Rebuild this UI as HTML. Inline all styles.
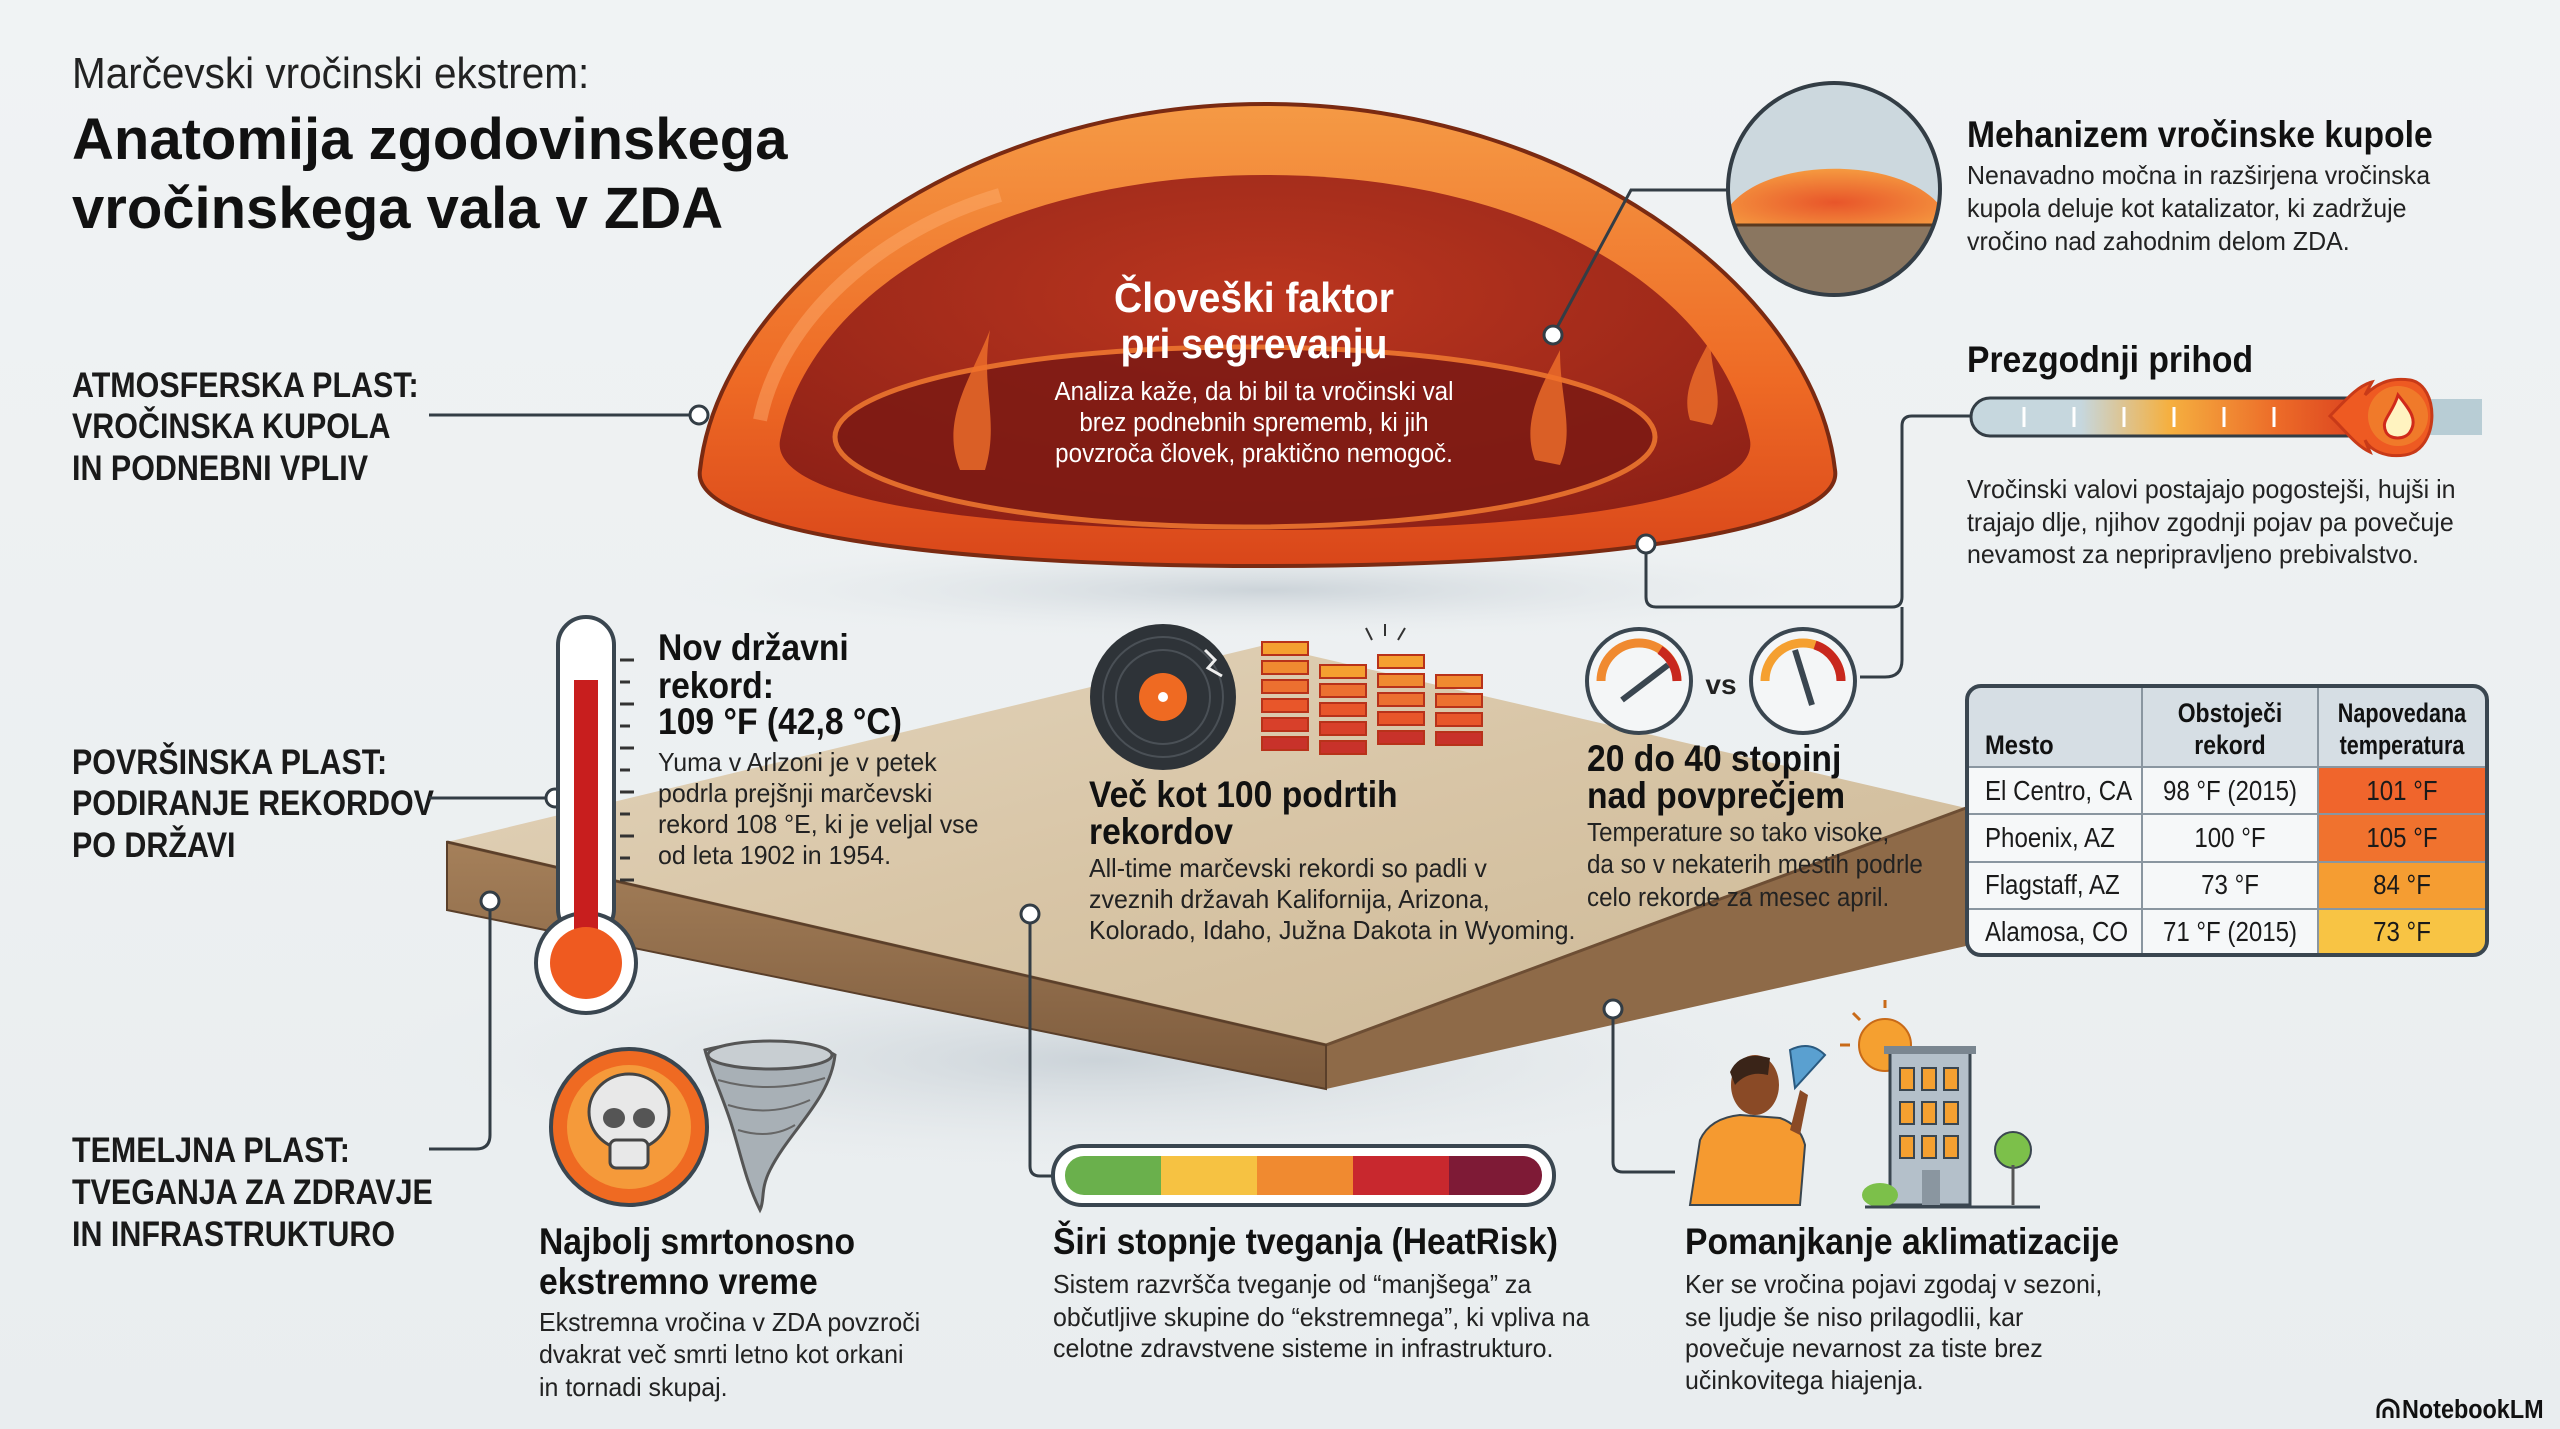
<!DOCTYPE html>
<html><head><meta charset="utf-8">
<style>
html,body{margin:0;padding:0;background:#eef1f2;}
svg{display:block}
.n{font-family:"Liberation Sans Narrow","Liberation Sans",sans-serif;}
.s{font-family:"Liberation Sans",sans-serif;}
</style></head>
<body>
<svg width="2560" height="1429" viewBox="0 0 2560 1429" xmlns="http://www.w3.org/2000/svg">
<defs>
  <linearGradient id="bg" x1="0" y1="0" x2="0" y2="1"><stop offset="0" stop-color="#f0f3f4"/><stop offset="1" stop-color="#e9edef"/></linearGradient>
  <linearGradient id="domeO" x1="0" y1="0" x2="0" y2="1"><stop offset="0" stop-color="#f59a45"/><stop offset="0.6" stop-color="#ee6a25"/><stop offset="1" stop-color="#d9461a"/></linearGradient>
  <radialGradient id="domeI" cx="0.5" cy="0.35" r="0.7"><stop offset="0" stop-color="#b8321e"/><stop offset="1" stop-color="#8a1e16"/></radialGradient>
  <linearGradient id="top" x1="0" y1="0" x2="1" y2="1"><stop offset="0" stop-color="#e3d5bd"/><stop offset="0.5" stop-color="#d8c5a6"/><stop offset="1" stop-color="#cdb997"/></linearGradient>
  <linearGradient id="side" x1="0" y1="0" x2="0" y2="1"><stop offset="0" stop-color="#a5805a"/><stop offset="1" stop-color="#7c5a3c"/></linearGradient>
  <linearGradient id="pbar" x1="0" y1="0" x2="1" y2="0"><stop offset="0" stop-color="#c6d7de"/><stop offset="0.25" stop-color="#c6d7de"/><stop offset="0.45" stop-color="#f5b040"/><stop offset="0.7" stop-color="#ec6a28"/><stop offset="1" stop-color="#d02a1a"/></linearGradient>
  <radialGradient id="glass" cx="0.5" cy="0.6" r="0.6"><stop offset="0" stop-color="#e8552a"/><stop offset="1" stop-color="#f59a40"/></radialGradient>
  <radialGradient id="shadow" cx="0.5" cy="0.5" r="0.5"><stop offset="0" stop-color="#c8d0d6" stop-opacity="0.9"/><stop offset="1" stop-color="#e9edef" stop-opacity="0"/></radialGradient>
</defs>
<rect width="2560" height="1429" fill="url(#bg)"/>

<!-- Titles -->
<text x="72" y="88" class="s" font-size="44" fill="#222" transform="translate(72,0) scale(0.92,1) translate(-72,0)">Marčevski vročinski ekstrem:</text>
<text x="72" y="159" class="s" font-size="58" font-weight="bold" fill="#111">Anatomija zgodovinskega</text>
<text x="72" y="228" class="s" font-size="58" font-weight="bold" fill="#111">vročinskega vala v ZDA</text>

<!-- Left labels -->
<g class="n" font-size="35" font-weight="bold" fill="#1a1a1a" transform="translate(72,0) scale(0.87,1) translate(-72,0)">
<text x="72" y="397">ATMOSFERSKA PLAST:</text>
<text x="72" y="438">VROČINSKA KUPOLA</text>
<text x="72" y="480">IN PODNEBNI VPLIV</text>
<text x="72" y="774">POVRŠINSKA PLAST:</text>
<text x="72" y="815">PODIRANJE REKORDOV</text>
<text x="72" y="857">PO DRŽAVI</text>
<text x="72" y="1162">TEMELJNA PLAST:</text>
<text x="72" y="1204">TVEGANJA ZA ZDRAVJE</text>
<text x="72" y="1246">IN INFRASTRUKTURO</text>
</g>

<!-- shadows -->
<ellipse cx="1265" cy="590" rx="620" ry="50" fill="url(#shadow)"/>
<ellipse cx="1100" cy="1060" rx="760" ry="120" fill="url(#shadow)"/>

<!-- Slab -->
<polygon points="447,842 1265,645 1966,808 1326,1045" fill="url(#top)"/>
<polygon points="447,842 1326,1045 1326,1089 447,910" fill="url(#side)"/>
<polygon points="1326,1045 1966,808 1966,946 1326,1089" fill="#8e6a48"/>
<polyline points="447,842 1326,1045 1966,808" fill="none" stroke="#6d4e34" stroke-width="3"/>
<polygon points="447,842 1326,1045 1326,1089 447,910" fill="none" stroke="#5a3f2a" stroke-width="2"/>

<!-- Dome -->
<path d="M700,470 C720,290 960,104 1265,104 C1570,104 1815,290 1835,470 C1845,530 1600,566 1265,566 C930,566 690,530 700,470 Z" fill="url(#domeO)" stroke="#7a2a12" stroke-width="4"/>
<path d="M780,440 C810,290 1000,175 1265,175 C1530,175 1720,290 1750,440 C1760,500 1560,530 1265,530 C970,530 770,500 780,440 Z" fill="url(#domeI)" opacity="0.95"/>
<ellipse cx="1245" cy="437" rx="410" ry="90" fill="#7c1a14" stroke="#f07a30" stroke-width="5" opacity="0.85"/>
<path d="M760,420 C780,320 880,230 1000,195" fill="none" stroke="#ffb070" stroke-width="14" opacity="0.45"/>
<path d="M960,470 C940,420 970,380 990,330 C980,390 1000,420 985,470Z M1535,460 C1520,420 1545,380 1560,350 C1560,400 1575,430 1560,465Z M1690,420 C1680,390 1700,360 1710,340 C1712,380 1725,400 1712,425Z" fill="#f0702a" opacity="0.8"/>
<g text-anchor="middle" fill="#fff" transform="translate(1254,0) scale(0.93,1) translate(-1254,0)">
<text x="1254" y="312" class="n" font-size="42" font-weight="bold">Človeški faktor</text>
<text x="1254" y="358" class="n" font-size="42" font-weight="bold">pri segrevanju</text>
<g class="n" font-size="26"><text x="1254" y="400">Analiza kaže, da bi bil ta vročinski val</text>
<text x="1254" y="431">brez podnebnih sprememb, ki jih</text>
<text x="1254" y="462">povzroča človek, praktično nemogoč.</text></g>
</g>

<!-- connectors -->
<g fill="none" stroke="#333d45" stroke-width="3">
<line x1="429" y1="415" x2="699" y2="415"/>
<line x1="429" y1="798" x2="555" y2="798"/>
<path d="M429,1149 L476,1149 Q490,1149 490,1135 L490,901"/>
<path d="M1553,335 L1631,190 L1727,190"/>
<path d="M1646,544 L1646,597 Q1646,607 1656,607 L1892,607 Q1902,607 1902,597 L1902,426 Q1902,416 1912,416 L1971,416"/>
<path d="M1902,607 L1902,660 Q1902,677 1885,677 L1860,677"/>
<path d="M1030,914 L1030,1166 Q1030,1176 1040,1176 L1053,1176"/>
<path d="M1613,1009 L1613,1162 Q1613,1172 1623,1172 L1675,1172"/>
</g>
<g fill="#fff" stroke="#333d45" stroke-width="3">
<circle cx="699" cy="415" r="9"/><circle cx="555" cy="798" r="9"/><circle cx="490" cy="901" r="9"/>
<circle cx="1553" cy="335" r="9"/><circle cx="1646" cy="544" r="9"/><circle cx="1030" cy="914" r="9"/><circle cx="1613" cy="1009" r="9"/>
</g>

<!-- magnifier circle -->
<clipPath id="cc"><circle cx="1834" cy="189" r="106"/></clipPath>
<g clip-path="url(#cc)">
<rect x="1720" y="80" width="230" height="220" fill="#ccd8de"/>
<path d="M1720,225 C1740,150 1930,150 1950,225 Z" fill="url(#glass)"/>
<rect x="1720" y="225" width="230" height="80" fill="#8a7660"/>
<line x1="1720" y1="225" x2="1950" y2="225" stroke="#5a3a20" stroke-width="3"/>
</g>
<circle cx="1834" cy="189" r="106" fill="none" stroke="#333d45" stroke-width="4"/>

<!-- Right texts -->
<g transform="translate(1967,0) scale(0.91,1) translate(-1967,0)" class="n" font-size="37" font-weight="bold" fill="#111">
<text x="1967" y="147">Mehanizem vročinske kupole</text>
<text x="1967" y="372">Prezgodnji prihod</text></g>
<g class="n" font-size="26" fill="#222" transform="translate(1967,0) scale(0.96,1) translate(-1967,0)"><text x="1967" y="184">Nenavadno močna in razširjena vročinska</text>
<text x="1967" y="217">kupola deluje kot katalizator, ki zadržuje</text>
<text x="1967" y="250">vročino nad zahodnim delom ZDA.</text>
<text x="1967" y="498">Vročinski valovi postajajo pogostejši, hujši in</text>
<text x="1967" y="531">trajajo dlje, njihov zgodnji pojav pa povečuje</text>
<text x="1967" y="563">nevamost za nepripravljeno prebivalstvo.</text></g>
<rect x="2420" y="399" width="62" height="36" fill="#b8cdd5"/>
<rect x="1971" y="398" width="440" height="38" rx="19" fill="url(#pbar)" stroke="#333d45" stroke-width="3"/>
<g stroke="#fff" stroke-width="3"><line x1="2024" y1="407" x2="2024" y2="427"/><line x1="2074" y1="407" x2="2074" y2="427"/><line x1="2124" y1="407" x2="2124" y2="427"/><line x1="2174" y1="407" x2="2174" y2="427"/><line x1="2224" y1="407" x2="2224" y2="427"/><line x1="2274" y1="407" x2="2274" y2="427"/></g>
<path d="M2330,416 C2350,395 2360,385 2372,382 L2365,395 C2380,380 2395,378 2410,380 C2440,385 2440,450 2405,455 C2385,458 2370,450 2365,440 L2370,452 C2355,445 2345,430 2330,416Z" fill="#ee5a22" stroke="#c83a18" stroke-width="3"/>
<circle cx="2398" cy="416" r="30" fill="#f07a2a"/>
<path d="M2398,395 C2410,410 2418,420 2410,432 C2405,440 2390,440 2386,432 C2380,420 2392,415 2398,395Z" fill="#fff3c0" stroke="#d02a1a" stroke-width="3"/>

<!-- Thermometer -->
<rect x="558" y="617" width="56" height="320" rx="28" fill="#fff" stroke="#3a4650" stroke-width="4"/>
<circle cx="586" cy="963" r="50" fill="#fff" stroke="#3a4650" stroke-width="4"/>
<rect x="563" y="923" width="46" height="20" fill="#fff"/>
<rect x="574" y="680" width="24" height="270" fill="#c81e1e"/>
<circle cx="586" cy="963" r="36" fill="#ef5a20"/>
<g stroke="#333" stroke-width="3"><line x1="620" y1="660" x2="634" y2="660"/><line x1="620" y1="682" x2="630" y2="682"/><line x1="620" y1="704" x2="634" y2="704"/><line x1="620" y1="726" x2="630" y2="726"/><line x1="620" y1="748" x2="634" y2="748"/><line x1="620" y1="770" x2="630" y2="770"/><line x1="620" y1="792" x2="634" y2="792"/><line x1="620" y1="814" x2="630" y2="814"/><line x1="620" y1="836" x2="634" y2="836"/><line x1="620" y1="858" x2="630" y2="858"/><line x1="620" y1="880" x2="634" y2="880"/></g>
<g class="n" font-weight="bold" font-size="37" fill="#111" transform="translate(658,0) scale(0.91,1) translate(-658,0)"><text x="658" y="660">Nov državni</text><text x="658" y="698">rekord:</text><text x="658" y="734">109 °F (42,8 °C)</text></g>
<g class="n" font-size="26" fill="#222" transform="translate(658,0) scale(0.96,1) translate(-658,0)"><text x="658" y="771">Yuma v Arlzoni je v petek</text><text x="658" y="802">podrla prejšnji marčevski</text><text x="658" y="833">rekord 108 °E, ki je veljal vse</text><text x="658" y="864">od leta 1902 in 1954.</text></g>

<!-- Record -->
<circle cx="1163" cy="697" r="73" fill="#2e3338"/>
<circle cx="1163" cy="697" r="60" fill="none" stroke="#4a5056" stroke-width="2"/>
<circle cx="1163" cy="697" r="47" fill="none" stroke="#4a5056" stroke-width="2"/>
<circle cx="1163" cy="697" r="24" fill="#ef6a22"/>
<circle cx="1163" cy="697" r="5" fill="#fff"/>
<path d="M1205,650 L1215,660 L1208,668 L1222,676" fill="none" stroke="#eee" stroke-width="3"/>
<g fill="#e8562a" stroke="#b8321a" stroke-width="2">
<rect x="1262" y="642" width="46" height="13" fill="#f5a030"/><rect x="1262" y="661" width="46" height="13" fill="#f08a30"/><rect x="1262" y="680" width="46" height="13" fill="#ec7030"/><rect x="1262" y="699" width="46" height="13"/><rect x="1262" y="718" width="46" height="13" fill="#d8402a"/><rect x="1262" y="737" width="46" height="13" fill="#c8322a"/>
<rect x="1320" y="665" width="46" height="13" fill="#f5a030"/><rect x="1320" y="684" width="46" height="13" fill="#ec7030"/><rect x="1320" y="703" width="46" height="13"/><rect x="1320" y="722" width="46" height="13" fill="#d8402a"/><rect x="1320" y="741" width="46" height="13" fill="#c8322a"/>
<rect x="1378" y="655" width="46" height="13" fill="#f5a030"/><rect x="1378" y="674" width="46" height="13" fill="#f08a30"/><rect x="1378" y="693" width="46" height="13" fill="#ec7030"/><rect x="1378" y="712" width="46" height="13"/><rect x="1378" y="731" width="46" height="13" fill="#c8322a"/>
<rect x="1436" y="675" width="46" height="13" fill="#f08a30"/><rect x="1436" y="694" width="46" height="13" fill="#ec7030"/><rect x="1436" y="713" width="46" height="13"/><rect x="1436" y="732" width="46" height="13" fill="#c8322a"/>
</g>
<g stroke="#333" stroke-width="2"><line x1="1372" y1="640" x2="1366" y2="628"/><line x1="1385" y1="636" x2="1385" y2="624"/><line x1="1398" y1="640" x2="1405" y2="628"/></g>
<g class="n" font-weight="bold" font-size="37" fill="#111" transform="translate(1089,0) scale(0.91,1) translate(-1089,0)"><text x="1089" y="807">Več kot 100 podrtih</text><text x="1089" y="844">rekordov</text></g>
<g class="n" font-size="26" fill="#222" transform="translate(1089,0) scale(0.96,1) translate(-1089,0)"><text x="1089" y="877">All-time marčevski rekordi so padli v</text><text x="1089" y="908">zveznih državah Kalifornija, Arizona,</text><text x="1089" y="939">Kolorado, Idaho, Južna Dakota in Wyoming.</text></g>

<!-- Gauges -->
<g>
<circle cx="1639" cy="681" r="52" fill="#f4f6f7" stroke="#3a4650" stroke-width="4"/>
<path d="M1601,681 A38,38 0 0 1 1677,681" fill="none" stroke="#f08a30" stroke-width="9"/>
<path d="M1660,650 A38,38 0 0 1 1677,681" fill="none" stroke="#c8281e" stroke-width="9"/>
<line x1="1622" y1="700" x2="1668" y2="665" stroke="#3a4650" stroke-width="6"/>
<circle cx="1803" cy="681" r="52" fill="#f4f6f7" stroke="#3a4650" stroke-width="4"/>
<path d="M1765,681 A38,38 0 0 1 1841,681" fill="none" stroke="#f5a030" stroke-width="9"/>
<path d="M1815,645 A38,38 0 0 1 1841,681" fill="none" stroke="#c8281e" stroke-width="9"/>
<line x1="1812" y1="705" x2="1795" y2="650" stroke="#3a4650" stroke-width="6"/>
<text x="1721" y="694" text-anchor="middle" class="n" font-weight="bold" font-size="28" fill="#222">vs</text>
</g>
<g class="n" font-weight="bold" font-size="37" fill="#111" transform="translate(1587,0) scale(0.91,1) translate(-1587,0)"><text x="1587" y="771">20 do 40 stopinj</text><text x="1587" y="808">nad povprečjem</text></g>
<g class="n" font-size="26" fill="#222" transform="translate(1587,0) scale(0.93,1) translate(-1587,0)"><text x="1587" y="841">Temperature so tako visoke,</text><text x="1587" y="873">da so v nekaterih mestih podrle</text><text x="1587" y="906">celo rekorde za mesec april.</text></g>

<!-- Table -->
<clipPath id="tc"><rect x="1967" y="686" width="520" height="269" rx="14"/></clipPath>
<g clip-path="url(#tc)">
<rect x="1967" y="686" width="520" height="269" fill="#f6f8f9"/>
<rect x="1967" y="686" width="520" height="81" fill="#d6dee4"/>
<rect x="2318" y="767" width="169" height="47" fill="#f0652c"/>
<rect x="2318" y="814" width="169" height="48" fill="#f0722e"/>
<rect x="2318" y="862" width="169" height="47" fill="#f59d32"/>
<rect x="2318" y="909" width="169" height="46" fill="#f8c444"/>
</g>
<g stroke="#8a96a0" stroke-width="2"><line x1="1967" y1="767" x2="2487" y2="767"/><line x1="1967" y1="814" x2="2487" y2="814"/><line x1="1967" y1="862" x2="2487" y2="862"/><line x1="1967" y1="909" x2="2487" y2="909"/><line x1="2142" y1="686" x2="2142" y2="955"/><line x1="2318" y1="686" x2="2318" y2="955"/></g>
<rect x="1967" y="686" width="520" height="269" rx="14" fill="none" stroke="#3a4650" stroke-width="4"/>
<g class="n" font-weight="bold" font-size="27" fill="#111">
<text x="1985" y="754" transform="translate(1985,0) scale(0.88,1) translate(-1985,0)">Mesto</text>
<g text-anchor="middle" transform="translate(2230,0) scale(0.85,1) translate(-2230,0)"><text x="2230" y="722">Obstoječi</text><text x="2230" y="754">rekord</text></g>
<g text-anchor="middle" transform="translate(2402,0) scale(0.8,1) translate(-2402,0)"><text x="2402" y="722">Napovedana</text><text x="2402" y="754">temperatura</text></g></g>
<g class="n" font-size="28" fill="#1a1a1a">
<g transform="translate(1985,0) scale(0.86,1) translate(-1985,0)"><text x="1985" y="800">El Centro, CA</text><text x="1985" y="847">Phoenix, AZ</text><text x="1985" y="894">Flagstaff, AZ</text><text x="1985" y="941">Alamosa, CO</text></g>
<g text-anchor="middle" transform="translate(2230,0) scale(0.86,1) translate(-2230,0)"><text x="2230" y="800">98 °F (2015)</text><text x="2230" y="847">100 °F</text><text x="2230" y="894">73 °F</text><text x="2230" y="941">71 °F (2015)</text></g>
<g text-anchor="middle" transform="translate(2402,0) scale(0.86,1) translate(-2402,0)"><text x="2402" y="800">101 °F</text><text x="2402" y="847">105 °F</text><text x="2402" y="894">84 °F</text><text x="2402" y="941">73 °F</text></g>
</g>

<!-- Skull + tornado -->
<circle cx="629" cy="1127" r="78" fill="#ef6a22" stroke="#3a4650" stroke-width="4"/>
<circle cx="629" cy="1127" r="62" fill="#f59a3a"/>
<ellipse cx="629" cy="1112" rx="40" ry="38" fill="#e8e8e8" stroke="#444" stroke-width="3"/>
<rect x="610" y="1140" width="38" height="28" rx="6" fill="#e8e8e8" stroke="#444" stroke-width="3"/>
<ellipse cx="614" cy="1118" rx="11" ry="10" fill="#555"/><ellipse cx="644" cy="1118" rx="11" ry="10" fill="#555"/>
<path d="M705,1050 C740,1040 810,1040 835,1055 C830,1100 790,1130 770,1170 C760,1190 765,1200 760,1210 C745,1180 740,1150 730,1120 C720,1090 710,1070 705,1050Z" fill="#a8b0b6" stroke="#555" stroke-width="3"/>
<ellipse cx="770" cy="1055" rx="62" ry="14" fill="#c8ced2" stroke="#555" stroke-width="3"/>
<g fill="none" stroke="#666" stroke-width="2"><path d="M718,1080 Q770,1095 825,1078"/><path d="M728,1105 Q770,1118 810,1100"/><path d="M738,1130 Q770,1140 795,1125"/></g>
<g class="n" font-weight="bold" font-size="37" fill="#111" transform="translate(539,0) scale(0.91,1) translate(-539,0)"><text x="539" y="1254">Najbolj smrtonosno</text><text x="539" y="1294">ekstremno vreme</text></g>
<g class="n" font-size="26" fill="#222" transform="translate(539,0) scale(0.96,1) translate(-539,0)"><text x="539" y="1331">Ekstremna vročina v ZDA povzroči</text><text x="539" y="1363">dvakrat več smrti letno kot orkani</text><text x="539" y="1396">in tornadi skupaj.</text></g>

<!-- HeatRisk bar -->
<rect x="1053" y="1146" width="501" height="59" rx="29" fill="#fff" stroke="#3a4650" stroke-width="4"/>
<clipPath id="hc"><rect x="1065" y="1156" width="477" height="39" rx="19"/></clipPath>
<g clip-path="url(#hc)">
<rect x="1065" y="1156" width="96" height="39" fill="#6ab04c"/>
<rect x="1161" y="1156" width="96" height="39" fill="#f6c242"/>
<rect x="1257" y="1156" width="96" height="39" fill="#f08a30"/>
<rect x="1353" y="1156" width="96" height="39" fill="#c8282e"/>
<rect x="1449" y="1156" width="93" height="39" fill="#7e1a36"/>
</g>
<text x="1053" y="1254" class="n" font-weight="bold" font-size="37" fill="#111" transform="translate(1053,0) scale(0.91,1) translate(-1053,0)">Širi stopnje tveganja (HeatRisk)</text>
<g class="n" font-size="26" fill="#222" transform="translate(1053,0) scale(0.96,1) translate(-1053,0)"><text x="1053" y="1293">Sistem razvršča tveganje od “manjšega” za</text><text x="1053" y="1326">občutljive skupine do “ekstremnega”, ki vpliva na</text><text x="1053" y="1357">celotne zdravstvene sisteme in infrastrukturo.</text></g>

<!-- Person + building -->
<circle cx="1885" cy="1045" r="26" fill="#f5a030" stroke="#c86a18" stroke-width="2"/>
<g stroke="#c86a18" stroke-width="3"><line x1="1885" y1="1008" x2="1885" y2="1000"/><line x1="1850" y1="1045" x2="1840" y2="1045"/><line x1="1860" y1="1020" x2="1853" y2="1013"/></g>
<rect x="1890" y="1050" width="80" height="155" fill="#b4c0ca" stroke="#3a4650" stroke-width="3"/>
<rect x="1884" y="1046" width="92" height="8" fill="#7a8690"/>
<g fill="#f5a030" stroke="#3a4650" stroke-width="2">
<rect x="1900" y="1068" width="14" height="22"/><rect x="1922" y="1068" width="14" height="22"/><rect x="1944" y="1068" width="14" height="22"/>
<rect x="1900" y="1102" width="14" height="22"/><rect x="1922" y="1102" width="14" height="22"/><rect x="1944" y="1102" width="14" height="22"/>
<rect x="1900" y="1136" width="14" height="22"/><rect x="1922" y="1136" width="14" height="22"/><rect x="1944" y="1136" width="14" height="22"/>
</g>
<rect x="1922" y="1170" width="18" height="35" fill="#8a96a0"/>
<circle cx="2013" cy="1150" r="18" fill="#7cc04a" stroke="#3a4650" stroke-width="2"/>
<line x1="2013" y1="1165" x2="2013" y2="1205" stroke="#555" stroke-width="3"/>
<ellipse cx="1880" cy="1195" rx="18" ry="12" fill="#7cc04a"/>
<line x1="1865" y1="1207" x2="2040" y2="1207" stroke="#3a4650" stroke-width="3"/>
<path d="M1690,1205 L1700,1140 Q1710,1118 1740,1115 L1780,1118 Q1800,1125 1805,1145 L1800,1205Z" fill="#f59a30" stroke="#3a4650" stroke-width="2"/>
<ellipse cx="1755" cy="1085" rx="24" ry="30" fill="#8a4a26"/>
<path d="M1730,1072 Q1740,1050 1770,1058 L1768,1075 Q1748,1070 1735,1085Z" fill="#3a2418"/>
<path d="M1790,1130 L1800,1090 L1808,1095 L1800,1135Z" fill="#8a4a26"/>
<path d="M1795,1088 L1790,1050 Q1810,1040 1825,1055 Z" fill="#5aa0d0" stroke="#2a5a80" stroke-width="2"/>
<text x="1685" y="1254" class="n" font-weight="bold" font-size="37" fill="#111" transform="translate(1685,0) scale(0.91,1) translate(-1685,0)">Pomanjkanje aklimatizacije</text>
<g class="n" font-size="26" fill="#222" transform="translate(1685,0) scale(0.96,1) translate(-1685,0)"><text x="1685" y="1293">Ker se vročina pojavi zgodaj v sezoni,</text><text x="1685" y="1326">se ljudje še niso prilagodlii, kar</text><text x="1685" y="1357">povečuje nevarnost za tiste brez</text><text x="1685" y="1389">učinkovitega hiajenja.</text></g>

<!-- Logo -->
<g fill="none" stroke="#111" stroke-width="3"><path d="M2378,1418 L2378,1410 A10,10 0 0 1 2398,1410 L2398,1418"/><path d="M2384,1418 L2384,1412 A4,4 0 0 1 2392,1412 L2392,1418"/></g>
<text x="2402" y="1418" class="n" font-size="26" font-weight="bold" fill="#111" transform="translate(2402,0) scale(0.9,1) translate(-2402,0)">NotebookLM</text>
</svg>
</body></html>
